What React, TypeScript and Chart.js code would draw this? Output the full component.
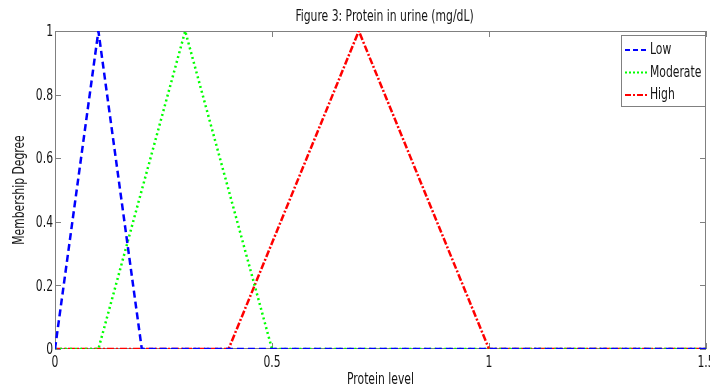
import React, { useEffect, useRef } from "react";
import { Chart, registerables } from "chart.js";

Chart.register(...registerables);

const titleText = "Figure 3: Protein in urine (mg/dL)";
const xTitle = "Protein level";
const yTitle = "Membership Degree";
const seriesNames = ["Low", "Moderate", "High"];
const lowX = [0, 0.1, 0.2, 1.5];
const lowY = [0, 1, 0, 0];
const modX = [0, 0.1, 0.3, 0.5, 1.5];
const modY = [0, 0, 1, 0, 0];
const highX = [0, 0.4, 0.7, 1.0, 1.5];
const highY = [0, 0, 1, 0, 0];
const xTicks = [0, 0.5, 1, 1.5];
const yTicks = [0, 0.2, 0.4, 0.6, 0.8, 1];

const FONT = "'DejaVu Sans Condensed', 'DejaVu Sans', sans-serif";
const SX = 0.75;
const TXT = "#151515";
const colors = ["#0000ff", "#00ff00", "#ff0000"];
const dashes = [[7, 4], [2, 3], [7, 2, 2, 2]];
const legendDashes = [[5, 3], [2, 2], [6, 2, 2, 2]];

function pts(xs: number[], ys: number[]) {
  return xs.map((x, i) => ({ x, y: ys[i] }));
}

function drawText(
  ctx: CanvasRenderingContext2D,
  text: string,
  x: number,
  y: number,
  size: number,
  align: CanvasTextAlign,
  rotate = 0
) {
  ctx.save();
  ctx.translate(x, y);
  if (rotate) ctx.rotate(rotate);
  ctx.scale(SX, 1);
  ctx.font = `${size}px ${FONT}`;
  ctx.fillStyle = TXT;
  ctx.textAlign = align;
  ctx.textBaseline = "middle";
  ctx.fillText(text, 0, 0);
  ctx.restore();
}

const decorPlugin = {
  id: "decor",
  beforeDatasetsDraw(chart: any) {
    const { ctx, chartArea: a, scales } = chart;
    ctx.save();
    ctx.fillStyle = "#ffffff";
    ctx.fillRect(a.left, a.top, a.right - a.left, a.bottom - a.top);
    ctx.strokeStyle = "#808080";
    ctx.lineWidth = 1;
    ctx.strokeRect(a.left + 0.5, a.top + 0.5, a.right - a.left - 1, a.bottom - a.top - 1);
    const tl = 6;
    ctx.beginPath();
    xTicks.forEach((v) => {
      const px = Math.round(scales.x.getPixelForValue(v)) + 0.5;
      ctx.moveTo(px, a.bottom);
      ctx.lineTo(px, a.bottom - tl);
      ctx.moveTo(px, a.top);
      ctx.lineTo(px, a.top + tl);
    });
    yTicks.forEach((v) => {
      const py = Math.round(scales.y.getPixelForValue(v)) + 0.5;
      ctx.moveTo(a.left, py);
      ctx.lineTo(a.left + tl, py);
      ctx.moveTo(a.right, py);
      ctx.lineTo(a.right - tl, py);
    });
    ctx.stroke();
    ctx.restore();

    // tick labels
    xTicks.forEach((v) => {
      drawText(ctx, String(v), scales.x.getPixelForValue(v), a.bottom + 14, 16, "center");
    });
    yTicks.forEach((v) => {
      drawText(ctx, String(v), a.left - 2, scales.y.getPixelForValue(v) + 1, 16, "right");
    });
    // titles
    drawText(ctx, titleText, (a.left + a.right) / 2 + 4, 17, 16, "center");
    drawText(ctx, xTitle, (a.left + a.right) / 2, a.bottom + 31, 16, "center");
    drawText(ctx, yTitle, 20, (a.top + a.bottom) / 2, 16, "center", -Math.PI / 2);
  },
  afterDatasetsDraw(chart: any) {
    const { ctx } = chart;
    ctx.save();
    const lx = 621, ly = 35, lw = 84, lh = 71;
    ctx.fillStyle = "#fff";
    ctx.fillRect(lx, ly, lw, lh);
    ctx.strokeStyle = "#808080";
    ctx.lineWidth = 1;
    ctx.strokeRect(lx + 0.5, ly + 0.5, lw, lh);
    chart.data.datasets.forEach((ds: any, i: number) => {
      const y = 50 + i * 22.5;
      ctx.strokeStyle = ds.borderColor;
      ctx.lineWidth = 2;
      ctx.setLineDash(legendDashes[i]);
      ctx.beginPath();
      ctx.moveTo(625, y);
      ctx.lineTo(648, y);
      ctx.stroke();
      ctx.setLineDash([]);
      drawText(ctx, ds.label, 650, y, 16, "left");
    });
    ctx.restore();
  },
};

export default function App() {
  const ref = useRef<HTMLCanvasElement>(null);
  useEffect(() => {
    const series = [pts(lowX, lowY), pts(modX, modY), pts(highX, highY)];
    const chart = new Chart(ref.current!, {
      type: "scatter",
      data: {
        datasets: series.map((d, i) => ({
          label: seriesNames[i],
          data: d,
          showLine: true,
          borderColor: colors[i],
          backgroundColor: colors[i],
          borderWidth: 2.5,
          borderDash: dashes[i],
          pointRadius: 0,
          fill: false,
        })),
      },
      options: {
        animation: false,
        responsive: false,
        layout: { padding: { top: 31, right: 4, left: 0, bottom: 0 } },
        plugins: { legend: { display: false }, tooltip: { enabled: false } },
        scales: {
          x: {
            type: "linear",
            min: 0,
            max: 1.5,
            afterBuildTicks: (s: any) => {
              s.ticks = xTicks.map((v) => ({ value: v }));
            },
            afterFit: (s: any) => {
              s.height = 40;
              s.paddingLeft = 0;
              s.paddingRight = 0;
            },
            grid: { display: false },
            border: { display: false },
            ticks: { display: false },
          },
          y: {
            min: 0,
            max: 1,
            afterBuildTicks: (s: any) => {
              s.ticks = yTicks.map((v) => ({ value: v }));
            },
            afterFit: (s: any) => {
              s.width = 55;
              s.paddingTop = 0;
              s.paddingBottom = 0;
            },
            grid: { display: false },
            border: { display: false },
            ticks: { display: false },
          },
        },
      },
      plugins: [decorPlugin],
    });
    return () => chart.destroy();
  }, []);
  return (
    <div style={{ position: "fixed", left: 0, top: 0, width: 710, height: 389, background: "#fff" }}>
      <canvas ref={ref} width={710} height={389} style={{ display: "block" }} />
    </div>
  );
}
